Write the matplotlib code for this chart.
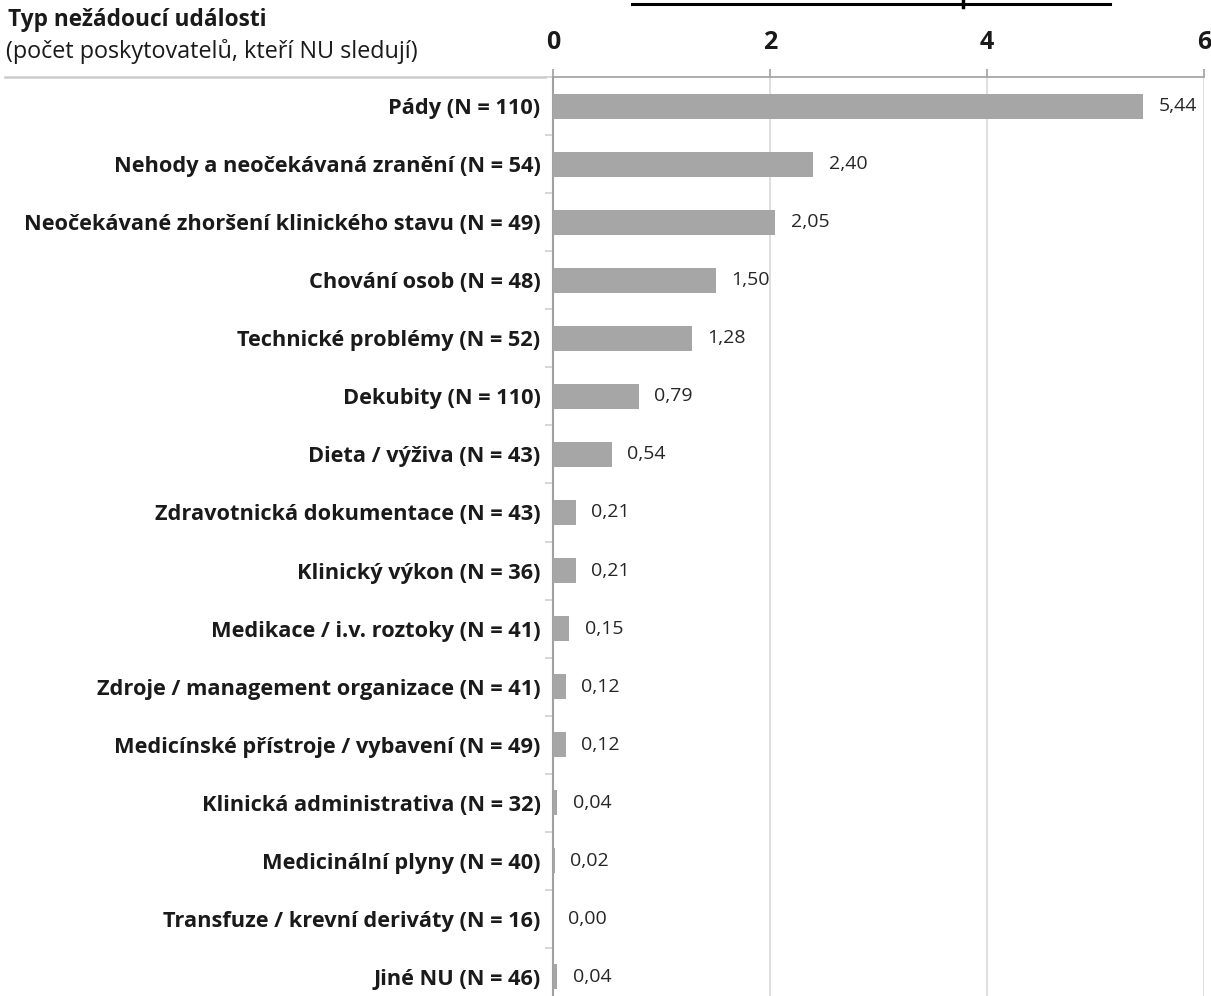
import numpy as np
import matplotlib.pyplot as plt
from matplotlib.lines import Line2D

categories = [
    'Pády (N = 110)',
    'Nehody a neočekávaná zranění (N = 54)',
    'Neočekávané zhoršení klinického stavu (N = 49)',
    'Chování osob (N = 48)',
    'Technické problémy (N = 52)',
    'Dekubity (N = 110)',
    'Dieta / výživa (N = 43)',
    'Zdravotnická dokumentace (N = 43)',
    'Klinický výkon (N = 36)',
    'Medikace / i.v. roztoky (N = 41)',
    'Zdroje / management organizace (N = 41)',
    'Medicínské přístroje / vybavení (N = 49)',
    'Klinická administrativa (N = 32)',
    'Medicinální plyny (N = 40)',
    'Transfuze / krevní deriváty (N = 16)',
    'Jiné NU (N = 46)',
]
values = [5.44, 2.40, 2.05, 1.50, 1.28, 0.79, 0.54, 0.21, 0.21, 0.15, 0.12, 0.12, 0.04, 0.02, 0.00, 0.04]
xticks = [0, 2, 4, 6]

plt.rcParams['font.family'] = ['Open Sans', 'DejaVu Sans']

W, H = 1211, 996
fig = plt.figure(figsize=(W / 100, H / 100), dpi=100)
left, right, top, bottom = 553, 1204, 77, 1006
ax = fig.add_axes([left / W, (H - bottom) / H, (right - left) / W, (bottom - top) / H])

y = np.arange(len(categories))
ax.barh(y, values, height=0.43, color='#a6a6a6', zorder=3)
for yi, v in zip(y, values):
    ax.annotate(f'{v:.2f}'.replace('.', ','), xy=(v, yi), xytext=(11, 0),
                textcoords='offset points', va='center', ha='left',
                fontsize=14, color='#262626', zorder=4)

ax.set_xlim(0, 6)
ax.set_ylim(len(categories) - 0.5, -0.5)
ax.xaxis.tick_top()
ax.set_xticks(xticks)
ax.set_xticklabels([str(t) for t in xticks], fontsize=18, fontweight='bold', color='#1a1a1a')
ax.tick_params(axis='x', length=6, width=1.2, color='#a0a0a0', pad=10)
ax.grid(axis='x', color='#d9d9d9', linewidth=1.2, zorder=0)

ax.set_yticks(y)
ax.set_yticklabels(categories, fontsize=15.7, fontweight='bold', color='#1a1a1a')
ax.set_yticks(np.arange(-0.5, len(categories), 1), minor=True)
ax.tick_params(axis='y', which='major', length=0, pad=9)
ax.tick_params(axis='y', which='minor', length=6, width=1.2, color='#d0d0d0')

for s in ['right', 'bottom']:
    ax.spines[s].set_visible(False)
ax.spines['left'].set_color('#a0a0a0')
ax.spines['left'].set_linewidth(1.5)
ax.spines['top'].set_color('#a0a0a0')
ax.spines['top'].set_linewidth(1.2)

fig.text(8 / W, 1 - 20 / H, 'Typ nežádoucí události', fontsize=16.3, fontweight='bold',
         color='#1a1a1a', va='center', ha='left')
fig.text(6 / W, 1 - 51 / H, '(počet poskytovatelů, kteří NU sledují)', fontsize=16.8,
         color='#1a1a1a', va='center', ha='left')
fig.add_artist(Line2D([5 / W, 545 / W], [1 - 77 / H, 1 - 77 / H], color='#cccccc', linewidth=1.8))
fig.add_artist(Line2D([632 / W, 1110 / W], [1 - 4 / H, 1 - 4 / H], color='black', linewidth=2.2))
fig.add_artist(Line2D([963 / W, 963 / W], [1 - 0 / H, 1 - 7 / H], color='black', linewidth=2.5))

fig.savefig('out.png', dpi=100)
